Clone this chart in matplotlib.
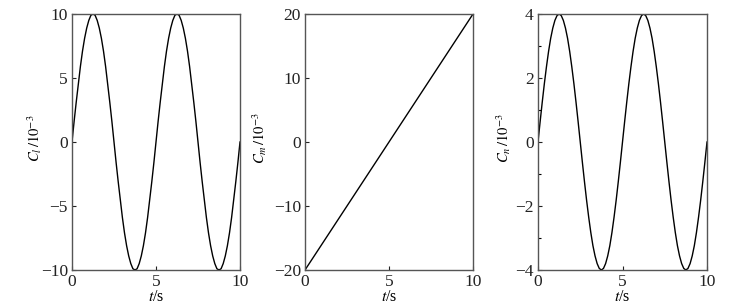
import matplotlib
matplotlib.use("Agg")
import matplotlib.pyplot as plt
from matplotlib.ticker import MultipleLocator

plt.rcParams.update({
    'font.family': 'serif',
    'font.serif': ['Liberation Serif', 'DejaVu Serif'],
    'mathtext.fontset': 'stix',
    'font.size': 12.5,
})

# time samples, s (every 0.125 s)
t = [i * 0.125 for i in range(81)]

# one period of the roll curve (40 samples)
cl_period = [0.0, 1.6, 3.1, 4.5, 5.9, 7.1, 8.1, 8.9, 9.5, 9.9,
             10.0, 9.9, 9.5, 8.9, 8.1, 7.1, 5.9, 4.5, 3.1, 1.6,
             0.0, -1.6, -3.1, -4.5, -5.9, -7.1, -8.1, -8.9, -9.5, -9.9,
             -10.0, -9.9, -9.5, -8.9, -8.1, -7.1, -5.9, -4.5, -3.1, -1.6]
C_l = cl_period + cl_period + [0.0]

cn_period = [0.0, 0.63, 1.24, 1.82, 2.35, 2.83, 3.24, 3.56, 3.80, 3.95,
             4.0, 3.95, 3.80, 3.56, 3.24, 2.83, 2.35, 1.82, 1.24, 0.63,
             0.0, -0.63, -1.24, -1.82, -2.35, -2.83, -3.24, -3.56, -3.80, -3.95,
             -4.0, -3.95, -3.80, -3.56, -3.24, -2.83, -2.35, -1.82, -1.24, -0.63]
C_n = cn_period + cn_period + [0.0]

t_m = [0, 10]
C_m = [-20, 20]

W, H = 754, 308
fig = plt.figure(figsize=(W / 100, H / 100), dpi=100)

def add_ax(left, right, top=14, bottom=270):
    return fig.add_axes([left / W, 1 - bottom / H, (right - left) / W, (bottom - top) / H])

ax1 = add_ax(72, 240)
ax2 = add_ax(305, 473)
ax3 = add_ax(538, 707)

ax1.plot(t, C_l, color='black', lw=1.0)
ax2.plot(t_m, C_m, color='black', lw=1.0)
ax3.plot(t, C_n, color='black', lw=1.0)

ax1.set_ylim(-10, 10)
ax1.yaxis.set_major_locator(MultipleLocator(5))
ax2.set_ylim(-20, 20)
ax2.yaxis.set_major_locator(MultipleLocator(10))
ax3.set_ylim(-4, 4)
ax3.yaxis.set_major_locator(MultipleLocator(2))
ax3.yaxis.set_minor_locator(MultipleLocator(1))

labels = [r'$C_l\,/10^{-3}$', r'$C_m\,/10^{-3}$', r'$C_n\,/10^{-3}$']
label_x = [-0.166, -0.214, -0.149]
for ax, lab, lx in zip([ax1, ax2, ax3], labels, label_x):
    ax.set_xlim(0, 10)
    ax.xaxis.set_major_locator(MultipleLocator(5))
    ax.tick_params(direction='in', length=3, width=0.8, colors='#222222',
                   labelcolor='#222222', pad=3)
    ax.tick_params(which='minor', direction='in', length=2, width=0.8)
    for s in ax.spines.values():
        s.set_color('#555555')
        s.set_linewidth(1.0)
    ax.set_xlabel(r'$t$/s', fontsize=11.5, labelpad=-1)
    ax.set_ylabel(lab, fontsize=10.5)
    ax.yaxis.set_label_coords(lx, 0.515)

fig.savefig('out.png', dpi=100)
